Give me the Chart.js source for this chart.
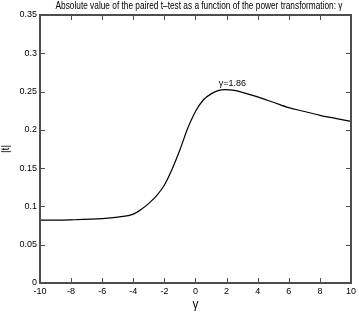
<!DOCTYPE html>
<html>
<head>
<meta charset="utf-8">
<script src="https://cdn.jsdelivr.net/npm/chart.js@4/dist/chart.umd.min.js"></script>
<style>
  html, body { margin: 0; padding: 0; background: #fff; overflow: hidden; }
  canvas { display: block; }
</style>
</head>
<body>
<canvas id="chart-t" width="359" height="313"></canvas>
<script>
// gamma values and |t|
var gammas = [-10, -8, -6, -5, -4, -3.5, -3, -2.5, -2, -1.5, -1, -0.5, 0, 0.5, 1, 1.5, 1.86, 2.5, 3, 4, 5, 6, 7, 8, 9, 10];
var tValues = [0.082, 0.0825, 0.084, 0.086, 0.09, 0.096, 0.104, 0.114, 0.128, 0.149, 0.174, 0.202, 0.224, 0.239, 0.247, 0.2515, 0.2525, 0.2515, 0.249, 0.243, 0.236, 0.229, 0.224, 0.219, 0.215, 0.211];
var xTicks = [-10, -8, -6, -4, -2, 0, 2, 4, 6, 8, 10];
var yTicks = [0, 0.05, 0.1, 0.15, 0.2, 0.25, 0.3, 0.35];
var peakGamma = 1.86;
var peakLabel = "γ=1.86";
var titleText = "Absolute value of the paired t–test as a function of the power transformation: γ";

var fontFam = "'Liberation Sans', Arial, sans-serif";
var axisColor = "#4d4d4d";

var points = gammas.map(function (g, i) {
  return { x: g, y: tValues[i] };
});

// frame, inward ticks, title and the peak label
var boxPlugin = {
  id: "box",
  afterDraw: function (chart) {
    var c = chart.ctx;
    var a = chart.chartArea;
    var xs = chart.scales.x;
    var ys = chart.scales.y;
    var l = Math.round(a.left), r = Math.round(a.right);
    var t = Math.round(a.top), b = Math.round(a.bottom);
    c.save();
    c.fillStyle = axisColor;
    // frame as filled strips
    c.fillRect(l - 1, t - 1, r - l + 2, 2);
    c.fillRect(l - 1, b - 1, r - l + 2, 2);
    c.fillRect(l - 1, t - 1, 2, b - t + 2);
    c.fillRect(r - 1, t - 1, 2, b - t + 2);
    // inward ticks
    xTicks.forEach(function (v) {
      var px = Math.round(xs.getPixelForValue(v));
      c.fillRect(px, b - 5, 1, 5);
      c.fillRect(px, t, 1, 5);
    });
    yTicks.forEach(function (v) {
      var py = Math.round(ys.getPixelForValue(v));
      c.fillRect(l, py, 5, 1);
      c.fillRect(r - 5, py, 5, 1);
    });

    c.fillStyle = "#000";
    c.textAlign = "center";
    c.textBaseline = "middle";
    // title is squeezed, the original uses a narrow font
    c.save();
    c.font = "10px " + fontFam;
    c.translate(199, 6);
    c.scale(0.83, 1);
    c.fillText(titleText, 0, 0);
    c.restore();

    var k = gammas.indexOf(peakGamma);
    c.font = "9px " + fontFam;
    c.textBaseline = "bottom";
    c.fillText(peakLabel, xs.getPixelForValue(peakGamma) + 8, ys.getPixelForValue(tValues[k]) - 2);
    c.restore();
  },
};

new Chart(document.getElementById("chart-t"), {
  type: "scatter",
  data: {
    datasets: [
      {
        data: points,
        showLine: true,
        borderColor: "#000",
        borderWidth: 1.2,
        pointRadius: 0,
        cubicInterpolationMode: "monotone",
      },
    ],
  },
  options: {
    responsive: false,
    animation: false,
    layout: { padding: { left: 0, right: 5, top: 15, bottom: 0 } },
    plugins: {
      legend: { display: false },
      tooltip: { enabled: false },
    },
    scales: {
      x: {
        type: "linear",
        position: "bottom",
        min: -10,
        max: 10,
        afterFit: function (s) { s.height = 30; },
        afterBuildTicks: function (s) {
          s.ticks = xTicks.map(function (v) { return { value: v }; });
        },
        grid: { display: false, drawTicks: false },
        border: { display: false },
        ticks: {
          color: "#000",
          padding: 3,
          maxRotation: 0,
          font: { size: 9, family: fontFam },
        },
        title: {
          display: true,
          text: "γ",
          color: "#000",
          padding: { top: 0, bottom: 1 },
          font: { size: 12, family: fontFam },
        },
      },
      y: {
        type: "linear",
        position: "left",
        min: 0,
        max: 0.35,
        afterFit: function (s) { s.width = 40; },
        afterBuildTicks: function (s) {
          s.ticks = yTicks.map(function (v) { return { value: v }; });
        },
        grid: { display: false, drawTicks: false },
        border: { display: false },
        ticks: {
          color: "#000",
          padding: 3,
          font: { size: 9, family: fontFam },
          callback: function (v) { return String(+v.toFixed(2)); },
        },
        title: {
          display: true,
          text: "|t|",
          color: "#000",
          padding: { top: 0, bottom: 2 },
          font: { size: 10, family: fontFam },
        },
      },
    },
  },
  plugins: [boxPlugin],
});
</script>
</body>
</html>
